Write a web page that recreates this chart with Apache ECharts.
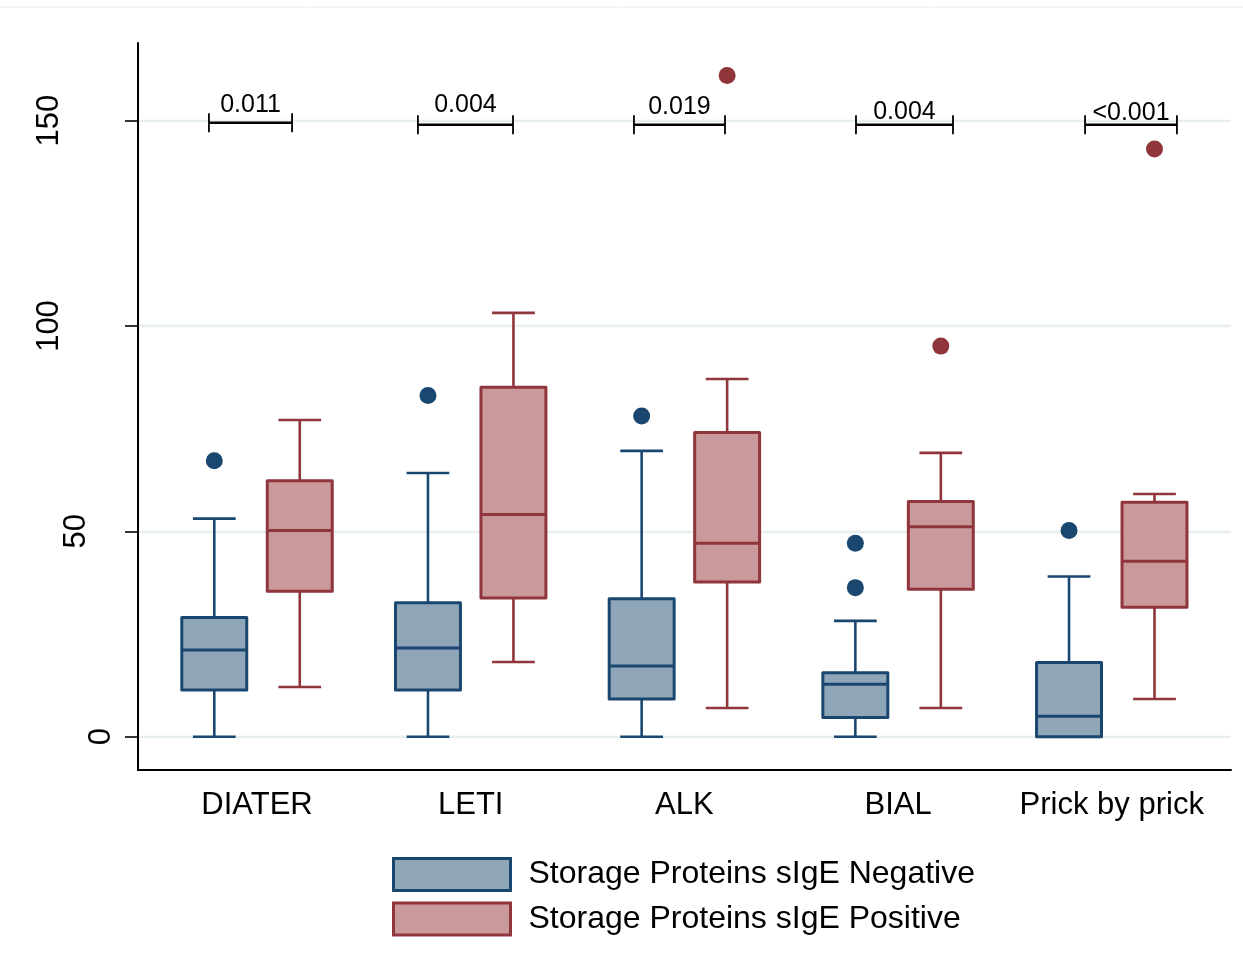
<!DOCTYPE html>
<html><head><meta charset="utf-8">
<style>html,body{margin:0;padding:0;background:#fff}#c{width:1243px;height:961px}</style>
<script src="https://cdn.jsdelivr.net/npm/echarts@6/dist/echarts.min.js"></script>
</head><body><div id="c"></div>
<script>
const categories = ['DIATER', 'LETI', 'ALK', 'BIAL', 'Prick by prick'];
const seriesNames = ['Storage Proteins sIgE Negative', 'Storage Proteins sIgE Positive'];
const yTicks = [0, 50, 100, 150];
// [lower whisker, Q1, median, Q3, upper whisker]
const negBoxes = [
  [0, 11.4, 21.1, 29.0, 53.1],
  [0, 11.4, 21.6, 32.6, 64.2],
  [0, 9.2, 17.2, 33.6, 69.6],
  [0, 4.7, 12.8, 15.6, 28.2],
  [0, 0, 5.0, 18.1, 39.0]
];
const posBoxes = [
  [12.1, 35.4, 50.2, 62.3, 77.1],
  [18.2, 33.8, 54.1, 85.1, 103.2],
  [7.0, 37.7, 47.1, 74.1, 87.1],
  [7.0, 35.9, 51.1, 57.3, 69.1],
  [9.2, 31.5, 42.7, 57.1, 59.1]
];
// [category index, value]
const negOutliers = [[0, 67.2], [1, 83.1], [2, 78.1], [3, 47.1], [3, 36.3], [4, 50.2]];
const posOutliers = [[2, 161.0], [3, 95.1], [4, 143.1]];
// p-value brackets (x in category units, y in data units)
const pLabels = ['0.011', '0.004', '0.019', '0.004', '<0.001'];
const pBracketStart = [-0.225, 0.753, 1.764, 2.803, 3.875];
const pBracketEnd = [0.164, 1.198, 2.190, 3.257, 4.305];
const pBracketY = [149.5, 149.0, 149.0, 149.0, 149.0];
const pLabelY = [152.1, 152.1, 151.4, 150.4, 150.1];

const FONT = '"Liberation Sans", Arial, Helvetica, sans-serif';
const NEG = { stroke: '#1a476f', fill: '#8fa5b8', offset: -0.2 };
const POS = { stroke: '#90353b', fill: '#c9999b', offset: 0.2 };
const BOX_W = 0.304, CAP_W = 0.2;
// per-length shift of the rotated y labels (Stata-like placement)
const Y_LABEL_PAD = { 1: 0, 2: 25, 3: 52 };

function boxRender(cfg) {
  return function (params, api) {
    const cx = api.value(0) + cfg.offset;
    const low = api.coord([cx, api.value(1)]);
    const q1 = api.coord([cx, api.value(2)]);
    const med = api.coord([cx, api.value(3)]);
    const q3 = api.coord([cx, api.value(4)]);
    const high = api.coord([cx, api.value(5)]);
    const unit = api.size([1, 0])[0];
    const bw = unit * BOX_W, cw = unit * CAP_W;
    const x = med[0];
    const ls = { stroke: cfg.stroke, lineWidth: 2.6 };
    return {
      type: 'group',
      children: [
        { type: 'line', shape: { x1: x, y1: q1[1], x2: x, y2: low[1] }, style: ls },
        { type: 'line', shape: { x1: x, y1: q3[1], x2: x, y2: high[1] }, style: ls },
        { type: 'line', shape: { x1: x - cw / 2, y1: low[1], x2: x + cw / 2, y2: low[1] }, style: ls },
        { type: 'line', shape: { x1: x - cw / 2, y1: high[1], x2: x + cw / 2, y2: high[1] }, style: ls },
        { type: 'rect', shape: { x: x - bw / 2, y: q3[1], width: bw, height: q1[1] - q3[1] },
          style: { fill: cfg.fill, stroke: cfg.stroke, lineWidth: 3, lineJoin: 'round' } },
        { type: 'line', shape: { x1: x - bw / 2, y1: med[1], x2: x + bw / 2, y2: med[1] },
          style: { stroke: cfg.stroke, lineWidth: 3 } }
      ]
    };
  };
}

function bracketRender(params, api) {
  const s = api.coord([api.value(0), api.value(2)]);
  const e = api.coord([api.value(1), api.value(2)]);
  const t = api.coord([(api.value(0) + api.value(1)) / 2, api.value(3)]);
  const idx = api.value(4);
  const ls = { stroke: '#000', lineWidth: 2.4 };
  return {
    type: 'group',
    children: [
      { type: 'line', shape: { x1: s[0], y1: s[1], x2: e[0], y2: e[1] }, style: ls },
      { type: 'line', shape: { x1: s[0], y1: s[1] - 9.5, x2: s[0], y2: s[1] + 9.5 }, style: { stroke: '#000', lineWidth: 1.8 } },
      { type: 'line', shape: { x1: e[0], y1: e[1] - 9.5, x2: e[0], y2: e[1] + 9.5 }, style: { stroke: '#000', lineWidth: 1.8 } },
      { type: 'text', x: t[0], y: t[1] + 5.2,
        style: { text: pLabels[idx], fill: '#000', fontSize: 25, fontFamily: FONT, align: 'center', verticalAlign: 'bottom' } }
    ]
  };
}

const yRich = {};
Object.keys(Y_LABEL_PAD).forEach(k => {
  yRich['l' + k] = { fontSize: 31, color: '#000', fontFamily: FONT, padding: [0, 0, Y_LABEL_PAD[k], 0] };
});

const chart = echarts.init(document.getElementById('c'), null, { renderer: 'canvas' });
chart.setOption({
  backgroundColor: '#fff',
  animation: false,
  graphic: [{ type: 'line', shape: { x1: 0, y1: 7, x2: 1243, y2: 7 }, style: { stroke: '#ececec', lineWidth: 1 }, silent: true }],
  grid: { left: 138, right: 12, top: 43, bottom: 191, containLabel: false, outerBoundsMode: 'none' },
  xAxis: {
    type: 'value', min: -0.557, max: 4.558,
    axisLine: { show: true, onZero: false, lineStyle: { color: '#000', width: 2 } },
    axisTick: { show: false },
    splitLine: { show: false },
    axisLabel: {
      customValues: categories.map((c, i) => i),
      formatter: v => categories[Math.round(v)],
      fontSize: 31, color: '#000', fontFamily: FONT, margin: 20
    }
  },
  yAxis: {
    type: 'value', min: -8.1, max: 168.9,
    axisLine: { show: true, onZero: false, lineStyle: { color: '#000', width: 2 } },
    axisTick: { show: true, customValues: yTicks, length: 13, lineStyle: { color: '#000', width: 1.6 } },
    splitLine: { show: true, lineStyle: { color: '#e7eff0', width: 2.4 } },
    axisLabel: {
      customValues: yTicks, rotate: 90, fontSize: 31, color: '#000', fontFamily: FONT, margin: 21,
      formatter: v => { const s = String(Math.round(v)); return '{l' + s.length + '|' + s + '}'; },
      rich: yRich
    }
  },
  legend: {
    orient: 'vertical', left: 392, top: 857, padding: 0, itemGap: 9.5,
    itemWidth: 117, itemHeight: 32,
    textStyle: { fontSize: 32, color: '#000', fontFamily: FONT, padding: [3, 0, 0, 13] },
    data: [
      { name: seriesNames[0], icon: 'rect', itemStyle: { color: NEG.fill, borderColor: NEG.stroke, borderWidth: 3 } },
      { name: seriesNames[1], icon: 'rect', itemStyle: { color: POS.fill, borderColor: POS.stroke, borderWidth: 3 } }
    ]
  },
  series: [
    { type: 'custom', name: seriesNames[0], renderItem: boxRender(NEG), clip: false, z: 3,
      itemStyle: { color: NEG.fill, borderColor: NEG.stroke },
      encode: { x: 0, y: [1, 2, 3, 4, 5] },
      data: negBoxes.map((b, i) => [i].concat(b)) },
    { type: 'custom', name: seriesNames[1], renderItem: boxRender(POS), clip: false, z: 3,
      itemStyle: { color: POS.fill, borderColor: POS.stroke },
      encode: { x: 0, y: [1, 2, 3, 4, 5] },
      data: posBoxes.map((b, i) => [i].concat(b)) },
    { type: 'scatter', name: seriesNames[0], symbol: 'circle', symbolSize: 17, z: 4,
      itemStyle: { color: NEG.stroke, opacity: 1 },
      data: negOutliers.map(([c, v]) => [c + NEG.offset, v]) },
    { type: 'scatter', name: seriesNames[1], symbol: 'circle', symbolSize: 17, z: 4,
      itemStyle: { color: POS.stroke, opacity: 1 },
      data: posOutliers.map(([c, v]) => [c + POS.offset, v]) },
    { type: 'custom', renderItem: bracketRender, clip: false, z: 5, silent: true,
      encode: { x: [0, 1], y: [2, 3] },
      data: pLabels.map((t, i) => [pBracketStart[i], pBracketEnd[i], pBracketY[i], pLabelY[i], i]) }
  ]
});
</script>
</body></html>
